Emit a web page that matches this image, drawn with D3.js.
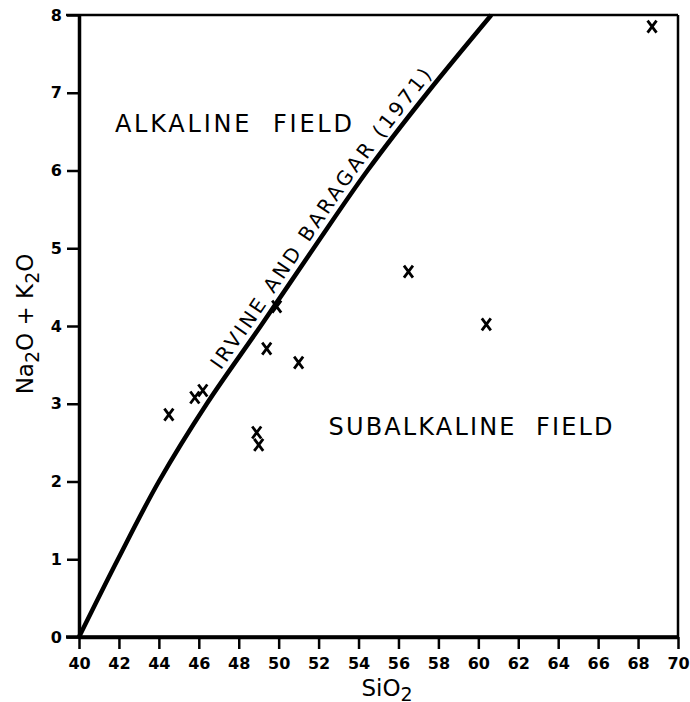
<!DOCTYPE html>
<html lang="en">
<head>
<meta charset="UTF-8">
<title>Irvine and Baragar alkali-silica plot</title>
<script src="https://cdnjs.cloudflare.com/ajax/libs/d3/7.8.5/d3.min.js"></script>
<style>
  body { margin: 0; background: #fff; }
  svg { display: block; }
  .tick text { font-family: "DejaVu Sans", sans-serif; font-weight: bold; font-size: 16px; fill: #000; }
</style>
</head>
<body>
<div id="chart"></div>
<script>
// sample points
var sio2   = [68.7, 44.5, 45.8, 46.2, 49.9, 49.4, 51.0, 48.9, 49.0, 56.5, 60.4];
var alkali = [7.85, 2.86, 3.08, 3.17, 4.25, 3.71, 3.53, 2.63, 2.47, 4.70, 4.02];

// Irvine & Baragar (1971) divide, SiO2 read at each alkali value
var divideAlk  = [0, 1, 2, 3, 4, 5, 6, 7, 8];
var divideSio2 = [40, 41.95, 44.0, 46.4, 49.1, 51.75, 54.45, 57.45, 60.65];

var xTicks = d3.range(40, 71, 2);
var yTicks = [0, 1, 2, 3, 4, 5, 6, 7, 8];

var width = 690, height = 702;

var svg = d3.select("#chart").append("svg")
  .attr("width", width)
  .attr("height", height);

var x = d3.scaleLinear().domain([40, 70]).range([79, 678]);
var y = d3.scaleLinear().domain([0, 8]).range([637, 15]);

// frame top + right
svg.append("line")
  .attr("x1", x(40) - 13).attr("x2", x(70))
  .attr("y1", y(8)).attr("y2", y(8))
  .attr("stroke", "#000").attr("stroke-width", 2.5);
svg.append("line")
  .attr("x1", x(70)).attr("x2", x(70))
  .attr("y1", y(8)).attr("y2", y(0))
  .attr("stroke", "#000").attr("stroke-width", 2.5);

// axes
var xAxis = svg.append("g")
  .attr("transform", "translate(0," + y(0) + ")")
  .call(d3.axisBottom(x).tickValues(xTicks).tickSize(12).tickSizeOuter(0).tickPadding(9));
var yAxis = svg.append("g")
  .attr("transform", "translate(" + x(40) + ",0)")
  .call(d3.axisLeft(y).tickValues(yTicks).tickSize(12).tickSizeOuter(0).tickPadding(5));

[xAxis, yAxis].forEach(function(g){
  g.select(".domain").attr("stroke", "#000").attr("stroke-width", 3.5);
  g.selectAll(".tick line").attr("stroke", "#000").attr("stroke-width", 2.5);
});
// x axis line continues left to meet the 0 tick
svg.append("line")
  .attr("x1", x(40) - 13).attr("x2", x(70))
  .attr("y1", y(0)).attr("y2", y(0))
  .attr("stroke", "#000").attr("stroke-width", 3.5);

// dividing curve
var divide = divideAlk.map(function(a, i){ return [divideSio2[i], a]; });
var line = d3.line()
  .x(function(d){ return x(d[0]); })
  .y(function(d){ return y(d[1]); })
  .curve(d3.curveMonotoneY);

var curve = svg.append("path")
  .attr("id", "divide")
  .datum(divide)
  .attr("d", line)
  .attr("fill", "none")
  .attr("stroke", "#000")
  .attr("stroke-width", 4.5);

// find a length along the curve nearest a given point
function lengthNear(px, py) {
  var node = curve.node(), total = node.getTotalLength(), best = 0, bestD = 1e9;
  for (var l = 0; l <= total; l += 0.5) {
    var p = node.getPointAtLength(l);
    var dd = (p.x - px) * (p.x - px) + (p.y - py) * (p.y - py);
    if (dd < bestD) { bestD = dd; best = l; }
  }
  return best;
}

var startL = lengthNear(217, 368);
var endL = lengthNear(441, 82);

svg.append("text")
  .attr("font-family", "DejaVu Sans, sans-serif")
  .attr("font-size", 20)
  .attr("dy", -7)
  .append("textPath")
  .attr("href", "#divide")
  .attr("startOffset", startL)
  .attr("textLength", endL - startL)
  .attr("lengthAdjust", "spacing")
  .text("IRVINE  AND  BARAGAR (1971)");

// field labels
svg.append("text")
  .attr("x", x(41.8)).attr("y", y(6.5))
  .attr("font-family", "DejaVu Sans, sans-serif")
  .attr("font-size", 24)
  .attr("textLength", 237).attr("lengthAdjust", "spacing")
  .attr("xml:space", "preserve")
  .text("ALKALINE  FIELD");

svg.append("text")
  .attr("x", x(52.5)).attr("y", y(2.6))
  .attr("font-family", "DejaVu Sans, sans-serif")
  .attr("font-size", 24)
  .attr("textLength", 284).attr("lengthAdjust", "spacing")
  .attr("xml:space", "preserve")
  .text("SUBALKALINE  FIELD");

// sample markers (x crosses)
var pts = sio2.map(function(s, i){ return { s: s, a: alkali[i] }; });
svg.selectAll(".mark")
  .data(pts)
  .enter().append("path")
  .attr("class", "mark")
  .attr("d", function(d){
    var cx = x(d.s), cy = y(d.a);
    return "M" + (cx - 4.5) + "," + (cy - 6) + "L" + (cx + 4.5) + "," + (cy + 6) +
           "M" + (cx + 4.5) + "," + (cy - 6) + "L" + (cx - 4.5) + "," + (cy + 6);
  })
  .attr("stroke", "#000")
  .attr("stroke-width", 2.8)
  .attr("fill", "none");

// axis titles
var xt = svg.append("text")
  .attr("x", 387).attr("y", 696)
  .attr("text-anchor", "middle")
  .attr("font-family", "DejaVu Sans, sans-serif")
  .attr("font-size", 23);
xt.append("tspan").text("SiO");
xt.append("tspan").attr("dy", 5).attr("font-size", 19).text("2");

var yt = svg.append("text")
  .attr("transform", "translate(33,324) rotate(-90)")
  .attr("text-anchor", "middle")
  .attr("font-family", "DejaVu Sans, sans-serif")
  .attr("font-size", 23);
yt.append("tspan").text("Na");
yt.append("tspan").attr("dy", 6).attr("font-size", 19).text("2");
yt.append("tspan").attr("dy", -6).text("O + K");
yt.append("tspan").attr("dy", 6).attr("font-size", 19).text("2");
yt.append("tspan").attr("dy", -6).text("O");
</script>
</body>
</html>
